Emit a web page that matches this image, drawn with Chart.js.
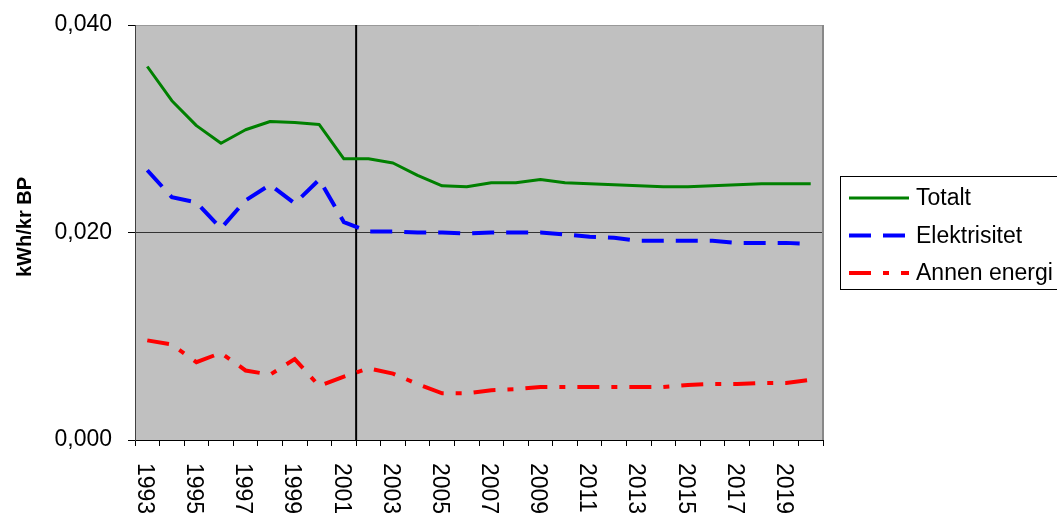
<!DOCTYPE html>
<html><head><meta charset="utf-8">
<script src="https://cdn.jsdelivr.net/npm/chart.js@4/dist/chart.umd.min.js"></script>
<style>html,body{margin:0;padding:0;background:#fff;overflow:hidden}#wrap{width:1057px;height:515px;position:relative}</style>
</head><body><div id="wrap"><canvas id="c" width="1057" height="515"></canvas></div>
<script>
const years = ['1993','1994','1995','1996','1997','1998','1999','2000','2001','2002','2003','2004','2005','2006','2007','2008','2009','2010','2011','2012','2013','2014','2015','2016','2017','2018','2019','2020'];
const tickLabels = ['1993','1995','1997','1999','2001','2003','2005','2007','2009','2011','2013','2015','2017','2019'];
const totalt = [0.0360,0.0327,0.0303,0.0286,0.0299,0.0307,0.0306,0.0304,0.0271,0.0271,0.0267,0.0255,0.0245,0.0244,0.0248,0.0248,0.0251,0.0248,0.0247,0.0246,0.0245,0.0244,0.0244,0.0245,0.0246,0.0247,0.0247,0.0247];
const elektrisitet = [0.0260,0.0234,0.0229,0.0204,0.0231,0.0246,0.0228,0.0251,0.0210,0.0201,0.0201,0.0200,0.0200,0.0199,0.0200,0.0200,0.0200,0.0198,0.0196,0.0195,0.0192,0.0192,0.0192,0.0192,0.0190,0.0190,0.0190,0.0189];
const annenEnergi = [0.0096,0.0092,0.0075,0.0084,0.0067,0.0063,0.0078,0.0052,0.0061,0.0069,0.0064,0.0054,0.0045,0.0045,0.0048,0.0049,0.0051,0.0051,0.0051,0.0051,0.0051,0.0051,0.0053,0.0054,0.0054,0.0055,0.0055,0.0058];
const seriesNames = ['Totalt','Elektrisitet','Annen energi'];
const yMin = 0, yMax = 0.04, yStep = 0.02;
const yTitle = 'kWh/kr BP';
const dividerAfterYear = '2001';

const FONT = "'Liberation Sans', Arial, sans-serif";

const deco = {
  id: 'deco',
  beforeDraw(chart) {
    const {ctx, chartArea: a} = chart;
    ctx.save();
    ctx.fillStyle = '#C0C0C0';
    ctx.fillRect(a.left, a.top, a.right - a.left, a.bottom - a.top);
    ctx.restore();
  },
  beforeDatasetsDraw(chart) {
    const {ctx, chartArea: a, scales} = chart;
    const xs = scales.x;
    const i = years.indexOf(dividerAfterYear);
    const xd = (xs.getPixelForValue(i) + xs.getPixelForValue(i + 1)) / 2;
    ctx.save();
    ctx.strokeStyle = '#888';
    ctx.lineWidth = 2;
    ctx.beginPath(); ctx.moveTo(a.right, a.top); ctx.lineTo(a.right, a.bottom); ctx.stroke();
    ctx.strokeStyle = '#000';
    ctx.lineWidth = 2;
    ctx.beginPath(); ctx.moveTo(xd, a.top); ctx.lineTo(xd, a.bottom); ctx.stroke();
    ctx.restore();
  },
  afterDraw(chart) {
    const {ctx, scales} = chart;
    const xs = scales.x;
    ctx.save();
    ctx.fillStyle = '#000';
    ctx.font = '23px ' + FONT;
    ctx.textAlign = 'left';
    ctx.textBaseline = 'middle';
    tickLabels.forEach(lbl => {
      const idx = years.indexOf(lbl);
      const x = xs.getPixelForValue(idx) - 3;
      ctx.save();
      ctx.translate(x, 463);
      ctx.rotate(Math.PI / 2);
      ctx.fillText(lbl, 0, 0);
      ctx.restore();
    });
    // y axis title
    ctx.save();
    ctx.translate(25, 227);
    ctx.rotate(-Math.PI / 2);
    ctx.font = 'bold 20px ' + FONT;
    ctx.textAlign = 'center';
    ctx.textBaseline = 'middle';
    ctx.fillText(yTitle, 0, 0);
    ctx.restore();
    // legend
    ctx.fillStyle = '#fff';
    ctx.fillRect(840.5, 176.5, 300, 113);
    ctx.strokeStyle = '#000';
    ctx.lineWidth = 1;
    ctx.strokeRect(840.5, 176.5, 300, 113);
    chart.data.datasets.forEach((ds, k) => {
      const y = 198 + k * 37.5;
      ctx.save();
      ctx.strokeStyle = ds.borderColor;
      ctx.lineWidth = ds.borderWidth;
      ctx.setLineDash(ds.borderDash || []);
      ctx.lineCap = 'butt';
      ctx.beginPath(); ctx.moveTo(849, y); ctx.lineTo(909, y); ctx.stroke();
      ctx.restore();
      ctx.fillStyle = '#000';
      ctx.font = '23px ' + FONT;
      ctx.textAlign = 'left';
      ctx.textBaseline = 'middle';
      ctx.fillText(ds.label, 916, y + 1);
    });
    ctx.restore();
  }
};

new Chart(document.getElementById('c'), {
  type: 'line',
  data: {
    labels: years,
    datasets: [
      {label: seriesNames[0], data: totalt, borderColor: '#008000', borderWidth: 3, pointRadius: 0, tension: 0, borderJoinStyle: 'round'},
      {label: seriesNames[1], data: elektrisitet, borderColor: '#0000FF', borderWidth: 4, borderDash: [22, 12], pointRadius: 0, tension: 0},
      {label: seriesNames[2], data: annenEnergi, borderColor: '#FF0000', borderWidth: 4, borderDash: [22, 12, 6, 12], pointRadius: 0, tension: 0}
    ]
  },
  options: {
    responsive: false,
    animation: false,
    devicePixelRatio: 1,
    layout: {padding: {top: 25, right: 234, left: 0, bottom: 0}},
    plugins: {legend: {display: false}, tooltip: {enabled: false}},
    scales: {
      x: {
        offset: true,
        grid: {offset: true, drawOnChartArea: false, drawTicks: true, tickLength: 6, tickColor: '#000'},
        border: {display: true, color: '#000', width: 1},
        ticks: {display: false},
        afterFit(s) { s.height = 75; s.paddingLeft = 0; s.paddingRight = 0; }
      },
      y: {
        min: yMin, max: yMax,
        ticks: {stepSize: yStep, color: '#000', font: {size: 23, family: FONT}, padding: 16,
          callback: v => v.toFixed(3).replace('.', ',')},
        grid: {color: ctx => Math.abs(ctx.tick.value - yMax) < 1e-9 ? '#999' : '#333', tickLength: 7, tickColor: '#000', lineWidth: 1},
        border: {display: true, color: '#404040', width: 1},
        title: {display: false, text: yTitle},
        afterFit(s) { s.width = 135; s.paddingTop = 0; s.paddingBottom = 0; }
      }
    }
  },
  plugins: [deco]
});
</script>
</body></html>
